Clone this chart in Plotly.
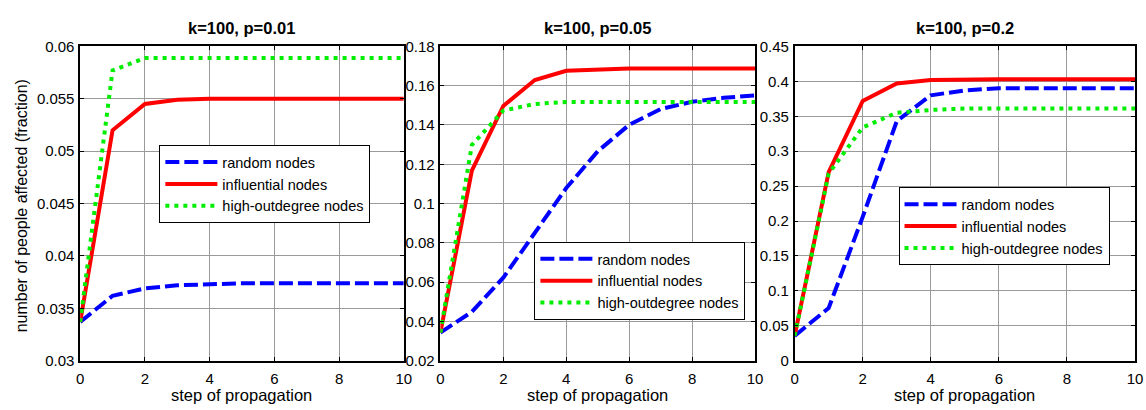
import plotly.graph_objects as go

steps = list(range(11))

titles = ["k=100, p=0.01", "k=100, p=0.05", "k=100, p=0.2"]
series_names = ["random nodes", "influential nodes", "high-outdegree nodes"]

# p = 0.01
p01_random = [0.0337, 0.0362, 0.0369, 0.0372, 0.0373, 0.0374, 0.0374, 0.0374, 0.0374, 0.0374, 0.0374]
p01_influential = [0.0337, 0.0520, 0.0545, 0.0549, 0.0550, 0.0550, 0.0550, 0.0550, 0.0550, 0.0550, 0.0550]
p01_outdegree = [0.0337, 0.0577, 0.0589, 0.0589, 0.0589, 0.0589, 0.0589, 0.0589, 0.0589, 0.0589, 0.0589]

# p = 0.05
p05_random = [0.0343, 0.0449, 0.0623, 0.0851, 0.1079, 0.1266, 0.1401, 0.1481, 0.1518, 0.1538, 0.1551]
p05_influential = [0.0343, 0.1168, 0.1497, 0.1629, 0.1676, 0.1684, 0.1688, 0.1688, 0.1688, 0.1688, 0.1688]
p05_outdegree = [0.0343, 0.1298, 0.1473, 0.1507, 0.1517, 0.1517, 0.1517, 0.1517, 0.1517, 0.1517, 0.1517]

# p = 0.2
p2_random = [0.0357, 0.0755, 0.206, 0.343, 0.380, 0.387, 0.390, 0.390, 0.390, 0.390, 0.390]
p2_influential = [0.0357, 0.270, 0.372, 0.397, 0.402, 0.403, 0.403, 0.403, 0.403, 0.403, 0.403]
p2_outdegree = [0.0357, 0.268, 0.334, 0.355, 0.359, 0.361, 0.361, 0.361, 0.361, 0.361, 0.361]

y_ranges = [(0.03, 0.06, 0.005), (0.02, 0.18, 0.02), (0.0, 0.45, 0.05)]
x_tick_vals = [0, 2, 4, 6, 8, 10]
x_tick_text = ["0", "2", "4", "6", "8", "10"]

data = [
    [p01_random, p01_influential, p01_outdegree],
    [p05_random, p05_influential, p05_outdegree],
    [p2_random, p2_influential, p2_outdegree],
]

W, H = 1146, 410
# pixel boxes of each panel (left, right, top, bottom)
boxes = [(77, 404, 39, 367), (441, 759, 39, 367), (799, 1143, 39, 367)]
legend_pos = [(157, 142), (536, 243), (904, 186)]

styles = [
    dict(color="#0000FF", width=4, dash="14px,5px"),
    dict(color="#FF0000", width=4, dash="solid"),
    dict(color="#00EE00", width=4, dash="4px,5px"),
]

FONT = "Liberation Sans, Arial, sans-serif"
fig = go.Figure()
annotations = []
for i in range(3):
    sfx = "" if i == 0 else str(i + 1)
    leg = "legend" if i == 0 else f"legend{i+1}"
    for j in range(3):
        fig.add_trace(go.Scatter(
            x=steps, y=data[i][j], mode="lines", name=series_names[j],
            line=styles[j], xaxis="x" + sfx, yaxis="y" + sfx, legend=leg,
        ))
    l, r, t, b = boxes[i]
    xd = [l / W, r / W]
    yd = [(H - b) / H, (H - t) / H]
    y0, y1, dy = y_ranges[i]
    axcommon = dict(
        showline=True, linecolor="black", linewidth=1.5, mirror="ticks",
        ticks="inside", ticklen=4, tickcolor="black",
        showgrid=True, gridcolor="#9A9A9A", gridwidth=1, zeroline=False,
        tickfont=dict(family=FONT, size=15, color="black"),
    )
    fig.update_layout(**{
        "xaxis" + sfx: dict(domain=xd, range=[0, 10], tickvals=x_tick_vals, ticktext=x_tick_text,
                            anchor="y" + sfx, ticklabelstandoff=3, **axcommon),
        "yaxis" + sfx: dict(domain=yd, range=[y0, y1], dtick=dy, tick0=y0, anchor="x" + sfx,
                            tickformat="~g", ticklabelstandoff=1, **axcommon),
    })
    lx, ly = legend_pos[i]
    fig.update_layout(**{leg: dict(
        x=lx / W, y=(H - ly) / H, xanchor="left", yanchor="top",
        bgcolor="white", bordercolor="black", borderwidth=1,
        font=dict(family=FONT, size=14.5, color="black"),
        tracegroupgap=0, itemwidth=52,
    )})
    annotations.append(dict(
        text="<b>" + titles[i] + "</b>", x=(l + r) / 2 / W, y=(H - 20) / H,
        xref="paper", yref="paper", showarrow=False, xanchor="center", yanchor="middle",
        font=dict(family=FONT, size=16.5, color="black"),
    ))
    annotations.append(dict(
        text="step of propagation", x=(l + r) / 2 / W, y=(H - 403) / H,
        xref="paper", yref="paper", showarrow=False, xanchor="center", yanchor="middle",
        font=dict(family=FONT, size=16.5, color="black"),
    ))

annotations.append(dict(
    text="number of people affected (fraction)", x=18 / W, y=(H - 205) / H,
    xref="paper", yref="paper", showarrow=False, textangle=-90,
    xanchor="center", yanchor="middle",
    font=dict(family=FONT, size=16, color="black"),
))

fig.update_layout(
    width=W, height=H, autosize=False,
    margin=dict(l=0, r=0, t=0, b=0),
    paper_bgcolor="white", plot_bgcolor="white",
    annotations=annotations, showlegend=True,
)

fig.write_html("out.html")
